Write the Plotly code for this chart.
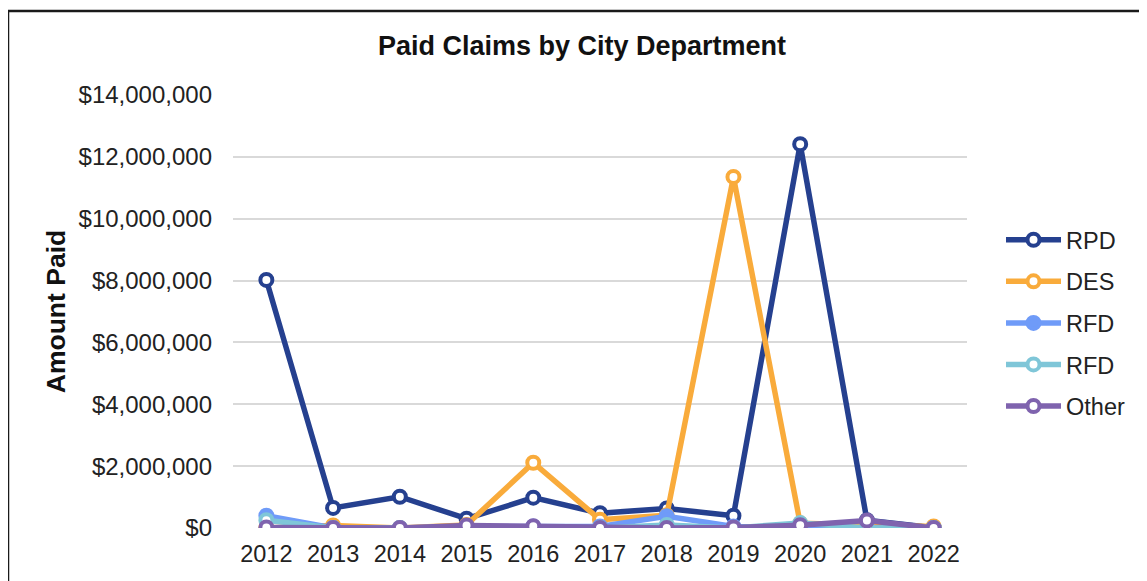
import plotly.graph_objects as go

years = ["2012", "2013", "2014", "2015", "2016", "2017", "2018", "2019", "2020", "2021", "2022"]
rpd = [8020000, 650000, 1010000, 300000, 980000, 480000, 630000, 400000, 12410000, 250000, 10000]
des = [0, 80000, 0, 100000, 2110000, 270000, 410000, 11350000, 150000, 100000, 50000]
rfd1 = [400000, 0, 0, 50000, 50000, 50000, 380000, 50000, 0, 0, 0]
rfd2 = [250000, 0, 0, 0, 0, 0, 100000, 0, 160000, 0, 0]
other = [20000, 0, 0, 80000, 60000, 0, 0, 20000, 90000, 240000, 0]

series = [
    ("RPD", rpd, "#25408F", "white"),
    ("DES", des, "#F9AB3B", "white"),
    ("RFD", rfd1, "#6F9BF8", None),
    ("RFD", rfd2, "#7FC6D8", "white"),
    ("Other", other, "#7F63AE", "white"),
]

fig = go.Figure()
for i, (name, vals, color, fill) in enumerate(series):
    fig.add_trace(go.Scatter(
        x=years, y=vals, name=name, mode="lines+markers",
        legendgroup=f"g{i}",
        line=dict(color=color, width=5.5),
        marker=dict(symbol="circle", size=12,
                    color=fill if fill else color,
                    line=dict(color=color, width=4)),
    ))

OFF = 7  # page offset of the rendered figure
W, H = 1147, 581
PL, PR, PT, PB = 232, 966, 94, 527  # desired plot box in screen pixels
L = PL - OFF
T = PT - OFF
pw, ph = PR - PL, PB - PT
R = W - L - pw
B = H - T - ph


def px_x(x):
    return (x - PL) / pw


def px_y(y):
    return (PB - y) / ph


fig.update_layout(
    width=W, height=H,
    margin=dict(l=L, r=R, t=T, b=B),
    paper_bgcolor="white", plot_bgcolor="white",
    font=dict(family="Liberation Sans, Arial, sans-serif", size=24, color="#222"),
    title=dict(text="<b>Paid Claims by City Department</b>", x=(581 - OFF) / W, xanchor="center",
               y=1 - (45 - OFF) / H, yanchor="middle", font=dict(size=27, color="#111")),
    xaxis=dict(type="category", range=[-0.5, 10.5], showgrid=False, zeroline=False,
               showline=False, ticks="", tickfont=dict(size=23.5), ticklabelstandoff=9),
    yaxis=dict(range=[0, 14000000], dtick=2000000, tickprefix="$", tickformat=",.0f",
               showgrid=True, gridcolor="#D9D9D9", gridwidth=2, zeroline=False,
               showline=False, ticks="", ticklabelstandoff=20, tickfont=dict(size=24),
               title=dict(text="<b>Amount Paid</b>", font=dict(size=26.5, color="#111"), standoff=5)),
    legend=dict(x=px_x(1000), xanchor="left", y=px_y(217), yanchor="top",
                font=dict(size=23.5), tracegroupgap=8, itemwidth=55,
                bgcolor="rgba(0,0,0,0)"),
    showlegend=True,
)

fig.add_shape(type="rect", xref="paper", yref="paper",
              x0=px_x(7), x1=px_x(1170),
              y0=px_y(600), y1=px_y(10),
              line=dict(color="#1a1a1a", width=2.5), fillcolor="rgba(0,0,0,0)", layer="below")

fig.write_html("out.html")
